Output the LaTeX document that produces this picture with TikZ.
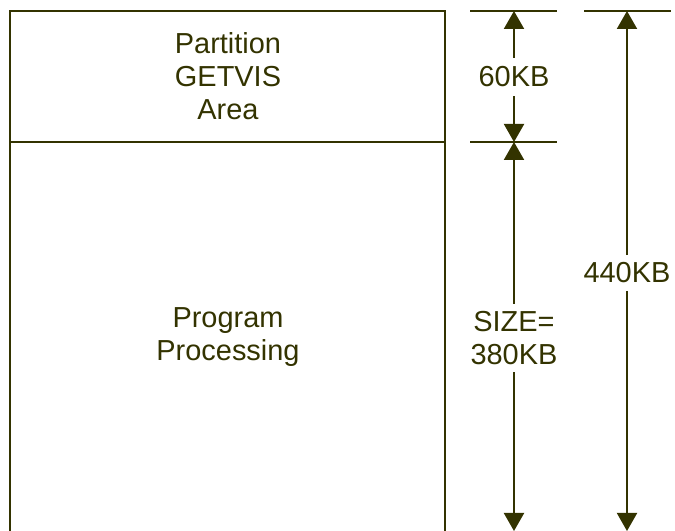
\documentclass[tikz,border=0pt]{standalone}
\usepackage{fontspec}
\setmainfont{Liberation Sans}
\usetikzlibrary{arrows.meta}
\definecolor{memdark}{RGB}{51,51,0}

\begin{document}
\begin{tikzpicture}[x=.75pt,y=.75pt,>={Triangle[length=13.5pt,width=15pt]},
    line width=1.5pt,color=memdark,text=memdark,
    font=\fontsize{21.7}{24.75}\selectfont]
  \useasboundingbox (0,0) rectangle (675,531);
  \clip (0,0) rectangle (675,531);
  % partition box
  \draw (10,-20) -- (10,520) -- (445,520) -- (445,-20);
  \draw (10,389) -- (445,389);
  \node[align=center] (getvis) at (228,455) {Partition\\GETVIS\\Area};
  \node[align=center] (prog) at (228,194) {Program\\Processing};
  % dimension lines
  \coordinate (top60) at (514,520);
  \coordinate (mid60) at (514,389);
  \coordinate (bot380) at (514,0);
  \coordinate (top440) at (627,520);
  \coordinate (bot440) at (627,0);
  \foreach \x/\y in {470/520,470/389,584/520}
    \draw (\x,\y) -- ++(87,0);
  \node[fill=white,inner sep=6pt] (size60) at (514,454) {60KB};
  \node[fill=white,inner sep=5pt,align=center] (size380) at (514,193) {SIZE=\\380KB};
  \node[fill=white,inner sep=5pt] (size440) at (627,258) {440KB};
  \draw[->] (size60) -- (top60);
  \draw[->] (size60) -- (mid60);
  \draw[->] (size380) -- (mid60);
  \draw[->] (size380) -- (bot380);
  \draw[->] (size440) -- (top440);
  \draw[->] (size440) -- (bot440);
\end{tikzpicture}
\end{document}
